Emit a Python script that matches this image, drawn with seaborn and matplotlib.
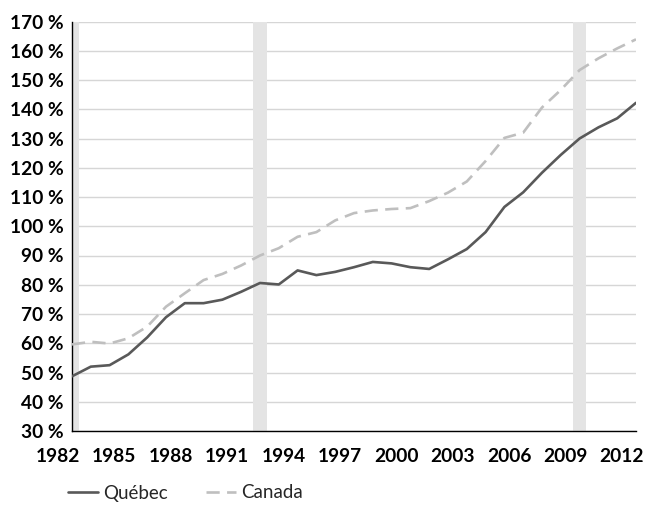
import pandas as pd
import numpy as np
import matplotlib
matplotlib.use("Agg")
import matplotlib.pyplot as plt
import matplotlib.transforms as mtransforms
from matplotlib.lines import Line2D
import seaborn as sns

# data (percent)
years = list(range(1982, 2013))
quebec = [48.7, 52.0, 52.5, 56.2, 62.0, 68.9, 73.7, 73.7, 74.9, 77.6,
          80.6, 80.1, 84.9, 83.3, 84.4, 86.0, 87.8, 87.3, 86.0, 85.4,
          88.7, 92.2, 98.0, 106.6, 111.6, 118.3, 124.4, 130.0, 133.8, 136.9,
          142.2]
canada = [59.6, 60.5, 59.9, 61.7, 65.7, 72.5, 77.1, 81.6, 83.7, 86.6,
          90.0, 92.5, 96.4, 98.0, 102.0, 104.5, 105.4, 105.9, 106.2, 108.6,
          111.5, 115.3, 122.3, 130.2, 132.0, 140.6, 146.6, 153.4, 157.4, 160.8,
          163.9]
recession_years = [1982, 1992, 2009]
series_names = ["Québec", "Canada"]

df = pd.DataFrame({
    "annee": years * 2,
    "valeur": quebec + canada,
    "serie": [series_names[0]] * len(years) + [series_names[1]] * len(years),
})

sns.set_theme(style="white")
plt.rcParams["font.family"] = ["Lato", "DejaVu Sans"]

fig = plt.figure(figsize=(6.48, 5.08), dpi=100)
ax = fig.add_axes([72 / 648, 1 - 431 / 508, 564 / 648, 409.5 / 508])

# grey recession bands
for yr in recession_years:
    ax.axvspan(yr - 0.36, yr + 0.36, color="#e4e4e4", lw=0, zorder=1)

palette = {"Québec": "#595959", "Canada": "#bfbfbf"}
dashes = {"Québec": "", "Canada": (5, 2.8)}
sns.lineplot(data=df, x="annee", y="valeur", hue="serie", style="serie",
             palette=palette, dashes=dashes, linewidth=1.9, ax=ax,
             legend=False, zorder=3)

ax.set_xlim(1982, 2012)
ax.set_ylim(30, 170)
ax.set_xlabel("")
ax.set_ylabel("")

yticks = list(range(30, 171, 10))
ax.set_yticks(yticks)
ax.set_yticklabels([f"{v} %" for v in yticks], fontsize=13.8, fontweight="bold")
ax.set_xticks(years)
ax.set_xticklabels([str(y) if (y - 1982) % 3 == 0 else "" for y in years],
                   fontsize=13.8, fontweight="bold")

ax.yaxis.grid(True, color="#d6d6d6", lw=1)
ax.xaxis.grid(False)
ax.tick_params(axis="y", length=0, pad=6, colors="black")
ax.tick_params(axis="x", length=3.5, width=1, direction="out", pad=9,
               colors="black")

offset = mtransforms.ScaledTranslation(-14 / 100, 0, fig.dpi_scale_trans)
for lab in ax.get_xticklabels():
    lab.set_transform(lab.get_transform() + offset)

for side in ["top", "right"]:
    ax.spines[side].set_visible(False)
for side in ["left", "bottom"]:
    ax.spines[side].set_color("black")
    ax.spines[side].set_linewidth(1)

handles = [
    Line2D([], [], color=palette["Québec"], lw=1.9),
    Line2D([], [], color=palette["Canada"], lw=1.9, dashes=(5, 2.8)),
]
fig.legend(handles, series_names, loc="center left",
           bbox_to_anchor=(51 / 648, 1 - 493 / 508), ncol=2, frameon=False,
           handlelength=1.6, handletextpad=0.3, columnspacing=2.0,
           prop={"size": 13.5})

fig.savefig("out.png", dpi=100)
